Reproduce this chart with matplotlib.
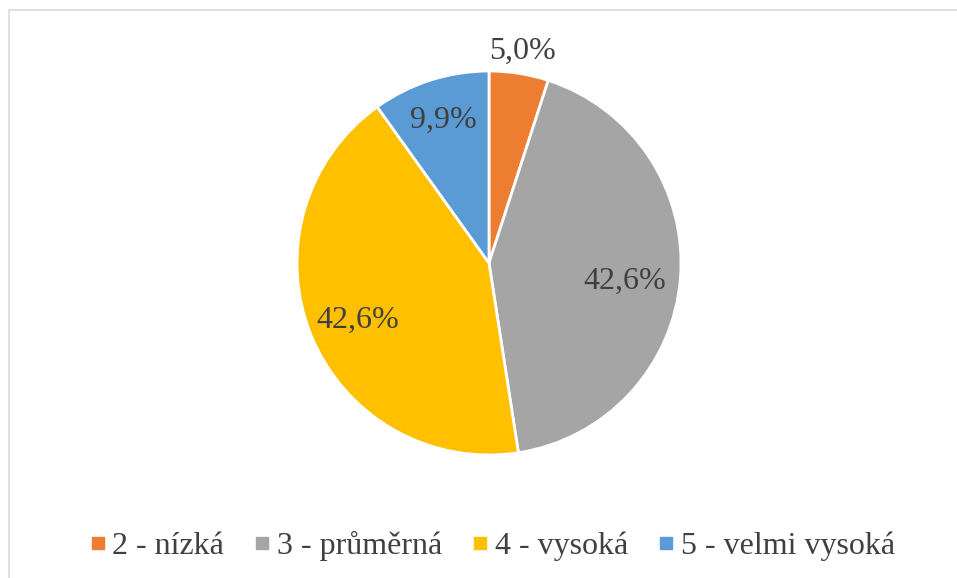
import numpy as np
import matplotlib.pyplot as plt
from matplotlib.lines import Line2D

plt.rcParams['font.family'] = ['Liberation Serif', 'DejaVu Serif']

categories = ["2 - nízká", "3 - průměrná", "4 - vysoká", "5 - velmi vysoká"]
values = [5.0, 42.6, 42.6, 9.9]
labels = ["5,0%", "42,6%", "42,6%", "9,9%"]
colors = ["#ED7D31", "#A5A5A5", "#FFC000", "#5B9BD5"]
label_dist = [1.13, 0.71, 0.74, 0.78]
label_dy = [-0.015, -0.04, -0.02, 0.0]

fig = plt.figure(figsize=(9.57, 5.78), dpi=100)
W, H = 957, 578

# chart border (only top and left visible in the crop)
fig.add_artist(Line2D([8.5 / W, 8.5 / W, 1], [0, 1 - 9.5 / H, 1 - 9.5 / H],
                      transform=fig.transFigure, color="#D9D9D9", lw=1.2))

cx, cy, r = 489, 263, 192
size = 2.08 * r
ax = fig.add_axes([(cx - size / 2) / W, 1 - (cy + size / 2) / H, size / W, size / H])
wedges, _ = ax.pie(values, colors=colors, startangle=90, counterclock=False,
                   wedgeprops=dict(edgecolor="white", linewidth=2))
ax.set_xlim(-1.04, 1.04)
ax.set_ylim(-1.04, 1.04)
ax.set_aspect("equal")
ax.axis("off")

for w, lab, d, dy in zip(wedges, labels, label_dist, label_dy):
    ang = np.deg2rad((w.theta1 + w.theta2) / 2)
    ax.text(d * np.cos(ang), d * np.sin(ang) + dy, lab, ha="center", va="center",
            fontsize=23, color="#404040")

handles = [Line2D([], [], marker="s", ls="", color=c, markersize=8.5) for c in colors]
fig.legend(handles, categories, loc="center", bbox_to_anchor=(0.512, 0.055), ncol=4,
           frameon=False, fontsize=23, labelcolor="#404040", handletextpad=0.05,
           columnspacing=0.8, handlelength=0.8)

fig.savefig("out.png", dpi=100)
